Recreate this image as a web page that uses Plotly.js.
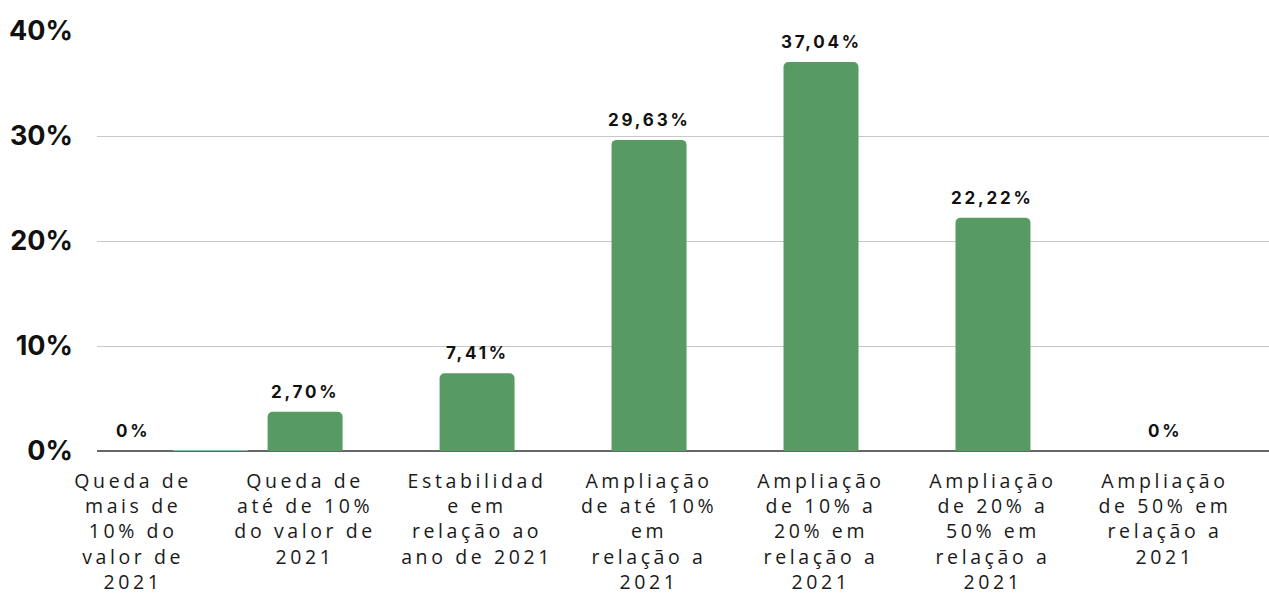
<!DOCTYPE html>
<html>
<head>
<meta charset="utf-8">
<script src="https://cdn.plot.ly/plotly-3.0.1.min.js"></script>
<style>
html,body{margin:0;padding:0;background:#fff;}
#chart{width:1269px;height:595px;}
.xtick text{letter-spacing:3.6px;}
.annotation-text{letter-spacing:2.8px;}
</style>
</head>
<body>
<div id="chart"></div>
<script>
// Data
const categories = [
  "Queda de<br>mais de<br>10% do<br>valor de<br>2021",
  "Queda de<br>até de 10%<br>do valor de<br>2021",
  "Estabilidad<br>e em<br>relação ao<br>ano de 2021",
  "Ampliação<br>de até 10%<br>em<br>relação a<br>2021",
  "Ampliação<br>de 10% a<br>20% em<br>relação a<br>2021",
  "Ampliação<br>de 20% a<br>50% em<br>relação a<br>2021",
  "Ampliação<br>de 50% em<br>relação a<br>2021"
];
const positions = [0, 1, 2, 3, 4, 5, 6];
const barValues = [0, 3.74, 7.41, 29.63, 37.04, 22.22, 0];
const valueLabels = ["0%", "2,70%", "7,41%", "29,63%", "37,04%", "22,22%", "0%"];
const residualX = [0.45];
const residualY = [0.1];
const yTickVals = [0, 10, 20, 30, 40];
const yTickText = ["0%", "10%", "20%", "30%", "40%"];

const traces = [
  {
    type: 'bar', x: residualX, y: residualY, width: 0.436,
    marker: {color: '#86c0a0'}, hoverinfo: 'skip', showlegend: false
  },
  {
    type: 'bar', x: positions, y: barValues, width: 0.436,
    marker: {color: '#589a63'}, hoverinfo: 'skip', showlegend: false
  }
];

const annotations = positions.map((p, i) => ({
  x: p, y: barValues[i], xref: 'x', yref: 'y',
  text: valueLabels[i], showarrow: false,
  yanchor: 'bottom', yshift: 8,
  font: {family: 'Inter, Roboto, sans-serif', size: 17, weight: 700, color: '#111'}
}));

const layout = {
  width: 1269, height: 595,
  margin: {l: 97, r: 0, t: 31, b: 144},
  paper_bgcolor: '#fff', plot_bgcolor: '#fff',
  barcornerradius: 5,
  bargap: 0.5,
  xaxis: {
    range: [-0.21, 6.605],
    tickvals: positions, ticktext: categories,
    showgrid: false, zeroline: false, showline: false,
    ticks: '', ticklabelstandoff: 16,
    tickangle: 0,
    tickfont: {family: 'Open Sans, sans-serif', size: 19.5, color: '#1a1a1a'}
  },
  yaxis: {
    range: [0, 40],
    tickvals: yTickVals, ticktext: yTickText,
    showgrid: true, gridcolor: '#c8c8c8', gridwidth: 1,
    zeroline: true, zerolinecolor: '#666', zerolinewidth: 1.3,
    ticks: '', ticklabelstandoff: 23,
    tickfont: {family: 'Inter, sans-serif', size: 27, weight: 700, color: '#111'}
  },
  annotations: annotations,
  showlegend: false
};

Plotly.newPlot('chart', traces, layout, {staticPlot: true, displayModeBar: false});
</script>
</body>
</html>
